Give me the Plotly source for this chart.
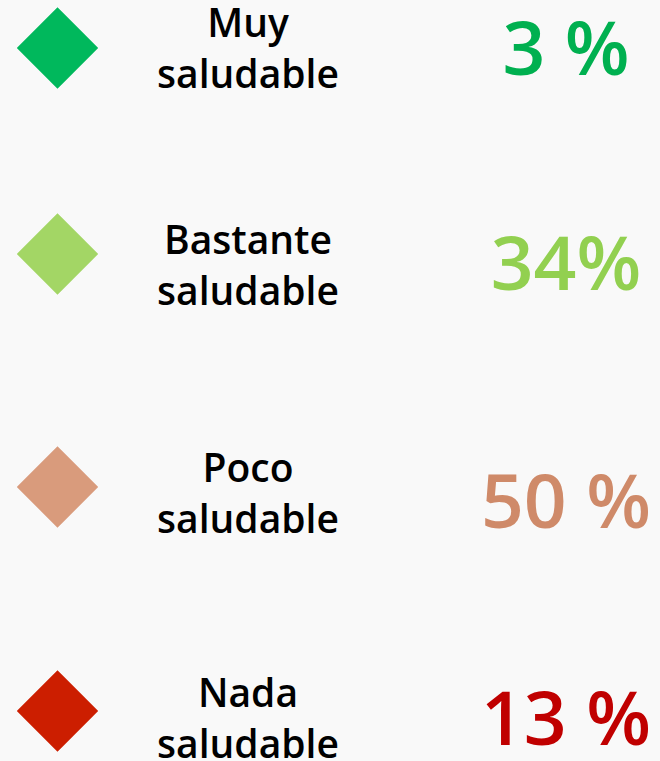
import plotly.graph_objects as go

# ---- data ----
categories = ["Muy<br>saludable", "Bastante<br>saludable", "Poco<br>saludable", "Nada<br>saludable"]
percent_labels = ["3 %", "34%", "50 %", "13 %"]
percent_values = [3, 34, 50, 13]

# ---- layout / style ----
W, H = 660, 761
row_marker_y = [48, 254, 487, 711]
row_label_y = [53, 270, 498, 723]
row_pct_y = [56, 271, 509, 726]
col_marker_x = 57.5
col_label_x = 248
col_pct_x = 566
marker_colors = ["#00B85C", "#A3D665", "#D99B7C", "#CC1E00"]
pct_colors = ["#00B050", "#92D050", "#CF8A69", "#C00000"]
bg = "#F9F9F9"

fig = go.Figure()

fig.add_trace(go.Scatter(
    x=[col_marker_x] * len(categories), y=row_marker_y,
    mode="markers",
    marker=dict(symbol="diamond", size=61, color=marker_colors,
                line=dict(width=1.5, color=marker_colors)),
    hoverinfo="skip", showlegend=False,
))

fig.add_trace(go.Scatter(
    x=[col_label_x] * len(categories), y=row_label_y,
    mode="text", text=categories, textposition="middle center",
    textfont=dict(family="Open Sans", size=39, color="#000000", weight=600),
    hoverinfo="skip", showlegend=False,
))

fig.add_trace(go.Scatter(
    x=[col_pct_x] * len(percent_labels), y=row_pct_y,
    mode="text", text=percent_labels, textposition="middle center",
    textfont=dict(family="Open Sans", size=75, color=pct_colors, weight=550),
    customdata=percent_values,
    hoverinfo="skip", showlegend=False,
))

fig.update_layout(
    width=W, height=H,
    margin=dict(l=0, r=0, t=0, b=0),
    paper_bgcolor=bg, plot_bgcolor=bg,
    xaxis=dict(range=[0, W], visible=False, fixedrange=True),
    yaxis=dict(range=[H, 0], visible=False, fixedrange=True),
)

fig.write_html(
    "out.html",
    config={"displayModeBar": False, "staticPlot": True},
    post_script="document.body.style.margin='0';document.body.style.background='%s';" % bg,
)
